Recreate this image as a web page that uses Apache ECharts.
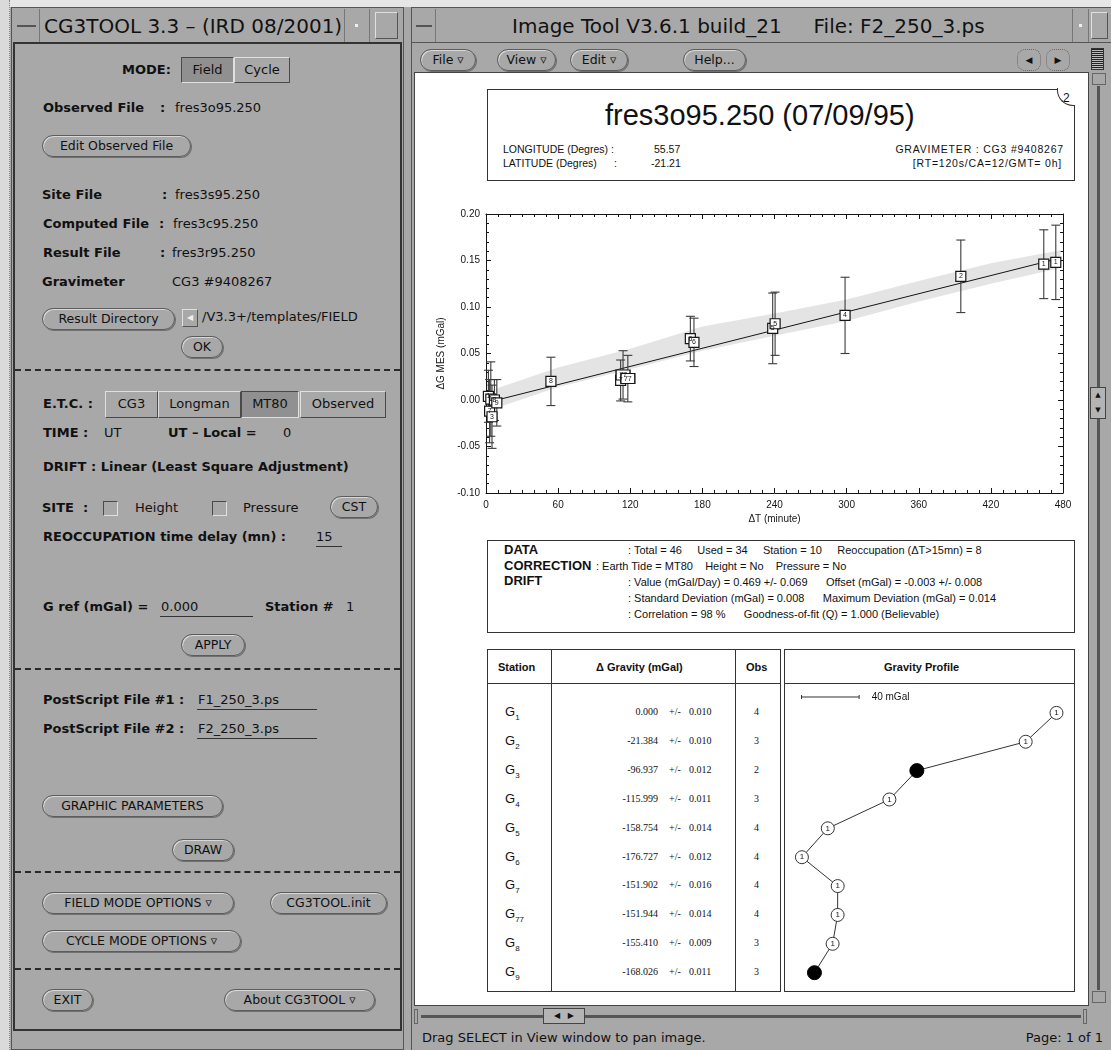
<!DOCTYPE html>
<html>
<head>
<meta charset="utf-8">
<title>CG3TOOL</title>
<script src="https://cdn.jsdelivr.net/npm/echarts@6/dist/echarts.min.js"></script>
<style>
body{margin:0;width:1111px;height:1050px;background:#a8a8a8;position:relative;overflow:hidden;font-family:"DejaVu Sans",sans-serif;font-size:13px;color:#111}
.a{position:absolute;white-space:nowrap;box-sizing:border-box}
.t{position:absolute;white-space:nowrap;line-height:16px;height:16px;margin-top:-8px}
.b{font-weight:bold}
.btn{position:absolute;box-sizing:border-box;border:1px solid #5c5c5c;border-radius:11px;box-shadow:inset 1px 1px 0 #d8d8d8,1px 1px 0 #707070;text-align:center;font-size:12.5px;line-height:19px;white-space:nowrap}
.tg{position:absolute;box-sizing:border-box;border:1px solid;border-color:#e0e0e0 #4a4a4a #4a4a4a #e0e0e0;text-align:center;line-height:24px;white-space:nowrap}
.tg.on{background:#909090;border-color:#4a4a4a #e0e0e0 #e0e0e0 #4a4a4a}
.dash{position:absolute;left:15px;width:385px;height:0;border-top:2px dashed #2a2a2a}
.ul{position:absolute;height:0;border-top:1px solid #333}
.cb{position:absolute;width:15px;height:15px;box-sizing:border-box;border:1px solid;border-color:#4a4a4a #e0e0e0 #e0e0e0 #4a4a4a}
.p{position:absolute;white-space:nowrap;font-family:"Liberation Sans",Arial,sans-serif;color:#111;line-height:14px;height:14px;margin-top:-7px}
.box{position:absolute;box-sizing:border-box;border:1px solid #333;background:#fff}
.serif{font-family:"Liberation Serif","Times New Roman",serif}
</style>
</head>
<body>
<!-- desktop edges -->
<div class="a" style="left:0;top:0;width:1111px;height:7px;background:#e6e6e6"></div>
<div class="a" style="left:0;top:0;width:10px;height:1050px;background:#dadada;border-right:1px dotted #888"></div>

<!-- ===== left window ===== -->
<div class="a" style="left:11px;top:7px;width:393px;height:1043px;border:1px solid #555;background:#a8a8a8"></div>
<div class="a" style="left:13px;top:9px;width:27px;height:33px;border-right:1px solid #777"></div>
<div class="a" style="left:17px;top:25px;width:19px;height:2px;background:#555"></div>
<div class="t" style="left:44px;top:26px;font-size:20px;line-height:22px;height:22px;margin-top:-11px">CG3TOOL 3.3 – (IRD 08/2001)</div>
<div class="a" style="left:344px;top:9px;width:26px;height:33px;border-left:1px solid #777;border-right:1px solid #777"></div>
<div class="a" style="left:355px;top:24px;width:3px;height:3px;background:#eee"></div>
<div class="a" style="left:375px;top:12px;width:23px;height:27px;border:1px solid;border-color:#e0e0e0 #555 #555 #e0e0e0"></div>
<div class="a" style="left:13px;top:42px;width:389px;height:989px;border:2px solid #333"></div>

<div class="t b" style="left:122px;top:70px">MODE:</div>
<div class="tg on" style="left:181px;top:57px;width:53px;height:26px">Field</div>
<div class="tg" style="left:234px;top:57px;width:56px;height:26px">Cycle</div>

<div class="t b" style="left:43px;top:108px">Observed File</div>
<div class="t b" style="left:160px;top:108px">:</div>
<div class="t" style="left:175px;top:108px">fres3o95.250</div>
<div class="btn" style="left:42px;top:135px;width:149px;height:22px">Edit Observed File</div>

<div class="t b" style="left:42px;top:195px">Site File</div>
<div class="t b" style="left:162px;top:195px">:</div>
<div class="t" style="left:175px;top:195px">fres3s95.250</div>
<div class="t b" style="left:43px;top:224px">Computed File</div>
<div class="t b" style="left:159px;top:224px">:</div>
<div class="t" style="left:173px;top:224px">fres3c95.250</div>
<div class="t b" style="left:43px;top:253px">Result File</div>
<div class="t b" style="left:160px;top:253px">:</div>
<div class="t" style="left:172px;top:253px">fres3r95.250</div>
<div class="t b" style="left:42px;top:282px">Gravimeter</div>
<div class="t" style="left:172px;top:282px">CG3 #9408267</div>

<div class="btn" style="left:42px;top:308px;width:133px;height:22px">Result Directory</div>
<div class="a" style="left:182px;top:309px;width:16px;height:18px;border:1px solid;border-color:#e0e0e0 #555 #555 #e0e0e0;font-size:8px;line-height:16px;text-align:center;color:#eee">◀</div>
<div class="t" style="left:202px;top:317px">/V3.3+/templates/FIELD</div>
<div class="btn" style="left:181px;top:336px;width:42px;height:22px">OK</div>

<div class="dash" style="top:369px"></div>

<div class="t b" style="left:43px;top:404px">E.T.C. :</div>
<div class="tg" style="left:105px;top:391px;width:53px;height:27px">CG3</div>
<div class="tg" style="left:158px;top:391px;width:83px;height:27px">Longman</div>
<div class="tg on" style="left:241px;top:391px;width:58px;height:27px">MT80</div>
<div class="tg" style="left:300px;top:391px;width:86px;height:27px">Observed</div>

<div class="t b" style="left:43px;top:433px">TIME :</div>
<div class="t" style="left:104px;top:433px">UT</div>
<div class="t b" style="left:168px;top:433px">UT – Local =</div>
<div class="t" style="left:283px;top:433px">0</div>
<div class="t b" style="left:43px;top:467px">DRIFT : Linear (Least Square Adjustment)</div>

<div class="t b" style="left:42px;top:508px">SITE&nbsp;&nbsp;:</div>
<div class="cb" style="left:103px;top:501px"></div>
<div class="t" style="left:135px;top:508px">Height</div>
<div class="cb" style="left:212px;top:501px"></div>
<div class="t" style="left:243px;top:508px">Pressure</div>
<div class="btn" style="left:330px;top:496px;width:48px;height:22px">CST</div>

<div class="t b" style="left:43px;top:537px">REOCCUPATION time delay (mn) :</div>
<div class="t" style="left:316px;top:537px">15</div>
<div class="ul" style="left:316px;top:546px;width:26px"></div>

<div class="t b" style="left:43px;top:607px">G ref (mGal) =</div>
<div class="t" style="left:161px;top:607px">0.000</div>
<div class="ul" style="left:160px;top:616px;width:93px"></div>
<div class="t b" style="left:265px;top:607px">Station #</div>
<div class="t" style="left:346px;top:607px">1</div>
<div class="btn" style="left:181px;top:634px;width:64px;height:22px">APPLY</div>

<div class="dash" style="top:668px"></div>

<div class="t b" style="left:43px;top:700px">PostScript File #1 :</div>
<div class="t" style="left:198px;top:700px">F1_250_3.ps</div>
<div class="ul" style="left:197px;top:709px;width:120px"></div>
<div class="t b" style="left:43px;top:729px">PostScript File #2 :</div>
<div class="t" style="left:198px;top:729px">F2_250_3.ps</div>
<div class="ul" style="left:197px;top:738px;width:120px"></div>

<div class="btn" style="left:42px;top:795px;width:181px;height:22px">GRAPHIC PARAMETERS</div>
<div class="btn" style="left:172px;top:839px;width:62px;height:22px">DRAW</div>

<div class="dash" style="top:871px"></div>

<div class="btn" style="left:42px;top:892px;width:192px;height:22px">FIELD MODE OPTIONS ▿</div>
<div class="btn" style="left:270px;top:892px;width:117px;height:22px">CG3TOOL.init</div>
<div class="btn" style="left:42px;top:930px;width:199px;height:22px">CYCLE MODE OPTIONS ▿</div>

<div class="dash" style="top:968px"></div>

<div class="btn" style="left:42px;top:989px;width:51px;height:22px">EXIT</div>
<div class="btn" style="left:224px;top:989px;width:151px;height:22px">About CG3TOOL ▿</div>

<!-- ===== right window ===== -->
<div class="a" style="left:411px;top:7px;width:700px;height:1043px;border-left:1px solid #555;border-top:1px solid #555;background:#a8a8a8"></div>
<div class="a" style="left:413px;top:9px;width:23px;height:33px;border-right:1px solid #777"></div>
<div class="a" style="left:416px;top:25px;width:16px;height:2px;background:#555"></div>
<div class="t" style="left:512px;top:26px;font-size:20px;line-height:22px;height:22px;margin-top:-11px">Image Tool V3.6.1 build_21&nbsp;&nbsp;&nbsp;&nbsp;&nbsp;File: F2_250_3.ps</div>
<div class="a" style="left:1072px;top:9px;width:17px;height:33px;border-left:1px solid #777;border-right:1px solid #777"></div>
<div class="a" style="left:1079px;top:24px;width:3px;height:3px;background:#eee"></div>
<div class="a" style="left:1091px;top:12px;width:17px;height:27px;border:1px solid;border-color:#e0e0e0 #555 #555 #e0e0e0"></div>
<div class="a" style="left:412px;top:42px;width:699px;height:1px;background:#555"></div>

<div class="btn" style="left:420px;top:49px;width:56px;height:22px">File ▿</div>
<div class="btn" style="left:497px;top:49px;width:59px;height:22px">View ▿</div>
<div class="btn" style="left:570px;top:49px;width:58px;height:22px">Edit ▿</div>
<div class="btn" style="left:683px;top:49px;width:63px;height:22px">Help...</div>
<div class="a" style="left:1017px;top:49px;width:24px;height:22px;border:1px dotted #666;border-radius:8px;text-align:center;font-size:9px;line-height:20px">◀</div>
<div class="a" style="left:1046px;top:49px;width:24px;height:22px;border:1px dotted #666;border-radius:8px;text-align:center;font-size:9px;line-height:20px">▶</div>
<div class="a" style="left:1091px;top:48px;width:13px;height:22px;border:1px solid #333;background:repeating-linear-gradient(#222 0 1px,#bbb 1px 2px)"></div>

<!-- page -->
<div class="box" style="left:414px;top:72px;width:675px;height:934px;border-color:#444"></div>
<!-- vertical scrollbar -->
<div class="a" style="left:1092px;top:73px;width:14px;height:12px;border:1px solid #666"></div>
<div class="a" style="left:1097px;top:86px;width:3px;height:904px;background:#555"></div>
<div class="a" style="left:1090px;top:387px;width:16px;height:32px;border:1px solid #444;background:#b4b4b4;font-size:7px;line-height:15px;text-align:center">▲<br>▼</div>
<div class="a" style="left:1092px;top:991px;width:14px;height:12px;border:1px solid #666"></div>
<!-- horizontal scrollbar -->
<div class="a" style="left:414px;top:1009px;width:4px;height:15px;border:1px solid #666"></div>
<div class="a" style="left:421px;top:1015px;width:660px;height:3px;background:#555"></div>
<div class="a" style="left:543px;top:1008px;width:42px;height:16px;border:1px solid #444;background:#b4b4b4;font-size:8px;line-height:14px;text-align:center">◀&nbsp;&nbsp;&nbsp;▶</div>
<div class="a" style="left:1083px;top:1009px;width:4px;height:15px;border:1px solid #666"></div>
<div class="t" style="left:422px;top:1038px">Drag SELECT in View window to pan image.</div>
<div class="t" style="right:8px;top:1038px">Page: 1 of 1</div>

<!-- header box -->
<div class="box" style="left:487px;top:89px;width:588px;height:92px"></div>
<div class="a" style="left:1057px;top:88px;width:18px;height:18px;border-left:1px solid #333;border-bottom:1px solid #333;border-bottom-left-radius:16px;background:#fff"></div>
<div class="p" style="left:1063px;top:98px;font-size:12px">2</div>
<div class="p" style="left:605px;top:115px;font-size:29px;line-height:32px;height:32px;margin-top:-16px">fres3o95.250 (07/09/95)</div>
<div class="p" style="left:503px;top:149px;font-size:10.5px">LONGITUDE (Degres) :</div>
<div class="p" style="left:654px;top:149px;font-size:10.5px">55.57</div>
<div class="p" style="left:503px;top:163px;font-size:10.5px">LATITUDE (Degres)</div>
<div class="p" style="left:614px;top:163px;font-size:10.5px">:</div>
<div class="p" style="left:651px;top:163px;font-size:10.5px">-21.21</div>
<div class="p" style="right:47px;top:149px;font-size:10.5px;letter-spacing:0.8px">GRAVIMETER : CG3 #9408267</div>
<div class="p" style="right:49px;top:163px;font-size:10.5px;letter-spacing:0.8px">[RT=120s/CA=12/GMT= 0h]</div>

<!-- statistics box -->
<div class="box" style="left:487px;top:540px;width:588px;height:93px"></div>
<div class="p b" style="left:504px;top:550px;font-size:13px">DATA</div>
<div class="p b" style="left:504px;top:566px;font-size:13px">CORRECTION</div>
<div class="p b" style="left:504px;top:581px;font-size:13px">DRIFT</div>
<div class="p" style="left:628px;top:550px;font-size:11px">: Total = 46&nbsp;&nbsp;&nbsp;&nbsp;&nbsp;Used = 34&nbsp;&nbsp;&nbsp;&nbsp;&nbsp;Station = 10&nbsp;&nbsp;&nbsp;&nbsp;&nbsp;Reoccupation (ΔT&gt;15mn) = 8</div>
<div class="p" style="left:596px;top:566px;font-size:11px">: Earth Tide = MT80&nbsp;&nbsp;&nbsp;&nbsp;Height = No&nbsp;&nbsp;&nbsp;&nbsp;Pressure = No</div>
<div class="p" style="left:628px;top:582px;font-size:11px">: Value (mGal/Day) = 0.469 +/- 0.069&nbsp;&nbsp;&nbsp;&nbsp;&nbsp;&nbsp;Offset (mGal) = -0.003 +/- 0.008</div>
<div class="p" style="left:628px;top:598px;font-size:11px">: Standard Deviation (mGal) = 0.008&nbsp;&nbsp;&nbsp;&nbsp;&nbsp;&nbsp;Maximum Deviation (mGal) = 0.014</div>
<div class="p" style="left:628px;top:614px;font-size:11px">: Correlation = 98 %&nbsp;&nbsp;&nbsp;&nbsp;&nbsp;&nbsp;Goodness-of-fit (Q) = 1.000 (Believable)</div>

<!-- station table -->
<div class="box" style="left:487px;top:649px;width:294px;height:343px"></div>
<div class="a" style="left:487px;top:683px;width:294px;height:1px;background:#333"></div>
<div class="a" style="left:551px;top:649px;width:1px;height:343px;background:#333"></div>
<div class="a" style="left:735px;top:649px;width:1px;height:343px;background:#333"></div>
<div class="p b" style="left:498px;top:667px;font-size:11px">Station</div>
<div class="p b" style="left:596px;top:667px;font-size:11px">Δ Gravity (mGal)</div>
<div class="p b" style="left:746px;top:667px;font-size:11px">Obs</div>
<div id="rows"></div>

<!-- profile box -->
<div class="box" style="left:784px;top:649px;width:291px;height:343px"></div>
<div class="a" style="left:784px;top:683px;width:291px;height:1px;background:#333"></div>
<div class="p b" style="left:884px;top:667px;font-size:11px">Gravity Profile</div>

<div id="chart" class="a" style="left:0;top:0;width:1111px;height:1050px;z-index:5;pointer-events:none"></div>

<script>
// --- drift plot: reoccupation readings (minutes, mGal) ---
const driftTime    = [2, 3, 4, 5, 7, 9, 54, 112, 114, 118, 170, 173, 238.5, 240.5, 298.7, 395, 464, 474];
const driftGrav    = [0.004, -0.012, 0.001, -0.018, 0.000, -0.003, 0.020, 0.021, 0.027, 0.023, 0.066, 0.062, 0.077, 0.082, 0.091, 0.133, 0.146, 0.148];
const driftErr     = [0.028, 0.034, 0.040, 0.034, 0.022, 0.025, 0.026, 0.022, 0.026, 0.025, 0.024, 0.026, 0.038, 0.034, 0.041, 0.039, 0.037, 0.040];
const driftStation = ['1', '7', '1', '3', '8', '9', '8', '7', '77', '77', '6', '6', '5', '5', '4', '2', '1', '1'];

// fitted drift line and the grey confidence band
const fitTime  = [8, 478];
const fitGrav  = [-0.0004, 0.1527];
const bandTime = [8, 60, 120, 180, 240, 300, 360, 420, 478];
const bandLow  = [-0.009, 0.014, 0.033, 0.053, 0.069, 0.085, 0.106, 0.125, 0.142];
const bandHigh = [0.012, 0.035, 0.055, 0.079, 0.093, 0.108, 0.128, 0.147, 0.161];

// station table / gravity profile
const stations    = ['1', '2', '3', '4', '5', '6', '7', '77', '8', '9'];
const gravity     = [0.000, -21.384, -96.937, -115.999, -158.754, -176.727, -151.902, -151.944, -155.410, -168.026];
const gravityErr  = [0.010, 0.010, 0.012, 0.011, 0.014, 0.012, 0.016, 0.014, 0.009, 0.011];
const obsCount    = [4, 3, 2, 3, 4, 4, 4, 4, 3, 3];
const profileFull = [false, false, true, false, false, false, false, false, false, true];
const profileMark = ['1', '1', '', '1', '1', '1', '1', '1', '1', ''];
const scaleBar    = [-177, -137];   // 40 mGal
const scaleRow    = -0.55;

// table rows
let html = '';
stations.forEach((s, i) => {
  const y = 712 + i * 28.9;
  html += '<div class="p" style="left:505px;top:' + y + 'px;font-size:13px">G<sub style="font-size:8px">' + s + '</sub></div>';
  html += '<div class="p serif" style="right:' + (1111 - 658) + 'px;top:' + y + 'px;font-size:10px">' + gravity[i].toFixed(3) + '</div>';
  html += '<div class="p serif" style="left:669px;top:' + y + 'px;font-size:10px">+/-</div>';
  html += '<div class="p serif" style="left:689px;top:' + y + 'px;font-size:10px">' + gravityErr[i].toFixed(3) + '</div>';
  html += '<div class="p serif" style="left:754px;top:' + y + 'px;font-size:10px">' + obsCount[i] + '</div>';
});
document.getElementById('rows').innerHTML = html;

const chart = echarts.init(document.getElementById('chart'));
const ink = '#151515';
const txt = { fontFamily: 'Liberation Sans', fontSize: 10, color: ink };

function frameAxis(extra) {
  return Object.assign({
    gridIndex: 0, type: 'value',
    axisLine: { onZero: false, lineStyle: { color: ink, width: 1 } },
    axisTick: { inside: true, length: 5, lineStyle: { color: ink } },
    splitLine: { show: false }, minorSplitLine: { show: false }
  }, extra);
}
const xMinor = { show: true, splitNumber: 6, length: 3, lineStyle: { color: ink } };
const yMinor = { show: true, splitNumber: 5, length: 3, lineStyle: { color: ink } };

chart.setOption({
  animation: false,
  grid: [
    { left: 486, top: 214, width: 577, height: 279 },
    { left: 790, top: 684, width: 278, height: 306 }
  ],
  xAxis: [
    frameAxis({ min: 0, max: 480, interval: 60, position: 'bottom', minorTick: xMinor,
      name: 'ΔT (minute)', nameLocation: 'middle', nameGap: 21, nameTextStyle: txt,
      axisLabel: Object.assign({ margin: 7 }, txt) }),
    frameAxis({ min: 0, max: 480, interval: 60, position: 'top', minorTick: xMinor,
      axisLabel: { show: false } }),
    { gridIndex: 1, type: 'value', min: -185, max: 8, show: false }
  ],
  yAxis: [
    frameAxis({ min: -0.1, max: 0.2, interval: 0.05, position: 'left', minorTick: yMinor,
      name: 'ΔG MES (mGal)', nameLocation: 'middle', nameRotate: 90, nameGap: 33, nameTextStyle: txt,
      axisLabel: Object.assign({ margin: 6, formatter: v => v.toFixed(2) }, txt) }),
    frameAxis({ min: -0.1, max: 0.2, interval: 0.05, position: 'right', minorTick: yMinor,
      axisLabel: { show: false } }),
    { gridIndex: 1, type: 'value', min: -1, max: 9.6, inverse: true, show: false }
  ],
  series: [
    // confidence band
    {
      type: 'custom', xAxisIndex: 0, yAxisIndex: 0, z: 1, silent: true,
      data: [[bandTime[0], bandLow[0]]],
      renderItem: (params, api) => {
        const pts = bandTime.map((t, i) => api.coord([t, bandHigh[i]]));
        for (let i = bandTime.length - 1; i >= 0; i--) pts.push(api.coord([bandTime[i], bandLow[i]]));
        return { type: 'polygon', shape: { points: pts }, style: { fill: '#e4e4e4' } };
      }
    },
    // fitted drift
    {
      type: 'line', xAxisIndex: 0, yAxisIndex: 0, z: 2, symbol: 'none',
      data: fitTime.map((t, i) => [t, fitGrav[i]]),
      lineStyle: { color: ink, width: 1 }
    },
    // error bars
    {
      type: 'custom', xAxisIndex: 0, yAxisIndex: 0, z: 3,
      encode: { x: 0, y: [1, 2] },
      data: driftTime.map((t, i) => [t, driftGrav[i] - driftErr[i], driftGrav[i] + driftErr[i]]),
      renderItem: (params, api) => {
        const top = api.coord([api.value(0), api.value(2)]);
        const bot = api.coord([api.value(0), api.value(1)]);
        const w = 4.5, st = { stroke: '#3a3a3a', lineWidth: 1.1 };
        return {
          type: 'group', children: [
            { type: 'line', shape: { x1: top[0], y1: top[1], x2: bot[0], y2: bot[1] }, style: st },
            { type: 'line', shape: { x1: top[0] - w, y1: top[1], x2: top[0] + w, y2: top[1] }, style: st },
            { type: 'line', shape: { x1: bot[0] - w, y1: bot[1], x2: bot[0] + w, y2: bot[1] }, style: st }
          ]
        };
      }
    },
    // station squares
    {
      type: 'scatter', xAxisIndex: 0, yAxisIndex: 0, z: 4, symbol: 'rect',
      data: driftTime.map((t, i) => ({
        value: [t, driftGrav[i]], name: driftStation[i],
        symbolSize: driftStation[i].length > 1 ? [14, 10] : [10, 10]
      })),
      itemStyle: { color: '#fff', borderColor: ink, borderWidth: 1.2, opacity: 1 },
      label: { show: true, position: 'inside', formatter: '{b}', fontSize: 7, fontFamily: 'Liberation Sans', color: ink }
    },
    // gravity profile
    {
      type: 'line', xAxisIndex: 2, yAxisIndex: 2, z: 3, symbol: 'circle',
      data: gravity.map((g, i) => ({
        value: [g, i],
        symbolSize: profileFull[i] ? 14 : 13,
        itemStyle: profileFull[i] ? { color: '#000', borderColor: '#000' } : { color: '#fff', borderColor: '#333', borderWidth: 1 },
        label: { show: !profileFull[i], formatter: profileMark[i] }
      })),
      lineStyle: { color: '#333', width: 1 },
      label: { position: 'inside', fontSize: 8, fontFamily: 'Liberation Sans', color: ink }
    },
    // 40 mGal scale bar
    {
      type: 'line', xAxisIndex: 2, yAxisIndex: 2, z: 3, symbol: 'rect', symbolSize: [1, 4],
      data: [
        { value: [scaleBar[0], scaleRow] },
        { value: [scaleBar[1], scaleRow], label: { show: true, position: 'right', distance: 12,
          formatter: (scaleBar[1] - scaleBar[0]) + ' mGal', fontSize: 10, fontFamily: 'Liberation Sans', color: ink } }
      ],
      itemStyle: { color: '#333' },
      lineStyle: { color: '#333', width: 1 }
    }
  ]
});
</script>
</body>
</html>
